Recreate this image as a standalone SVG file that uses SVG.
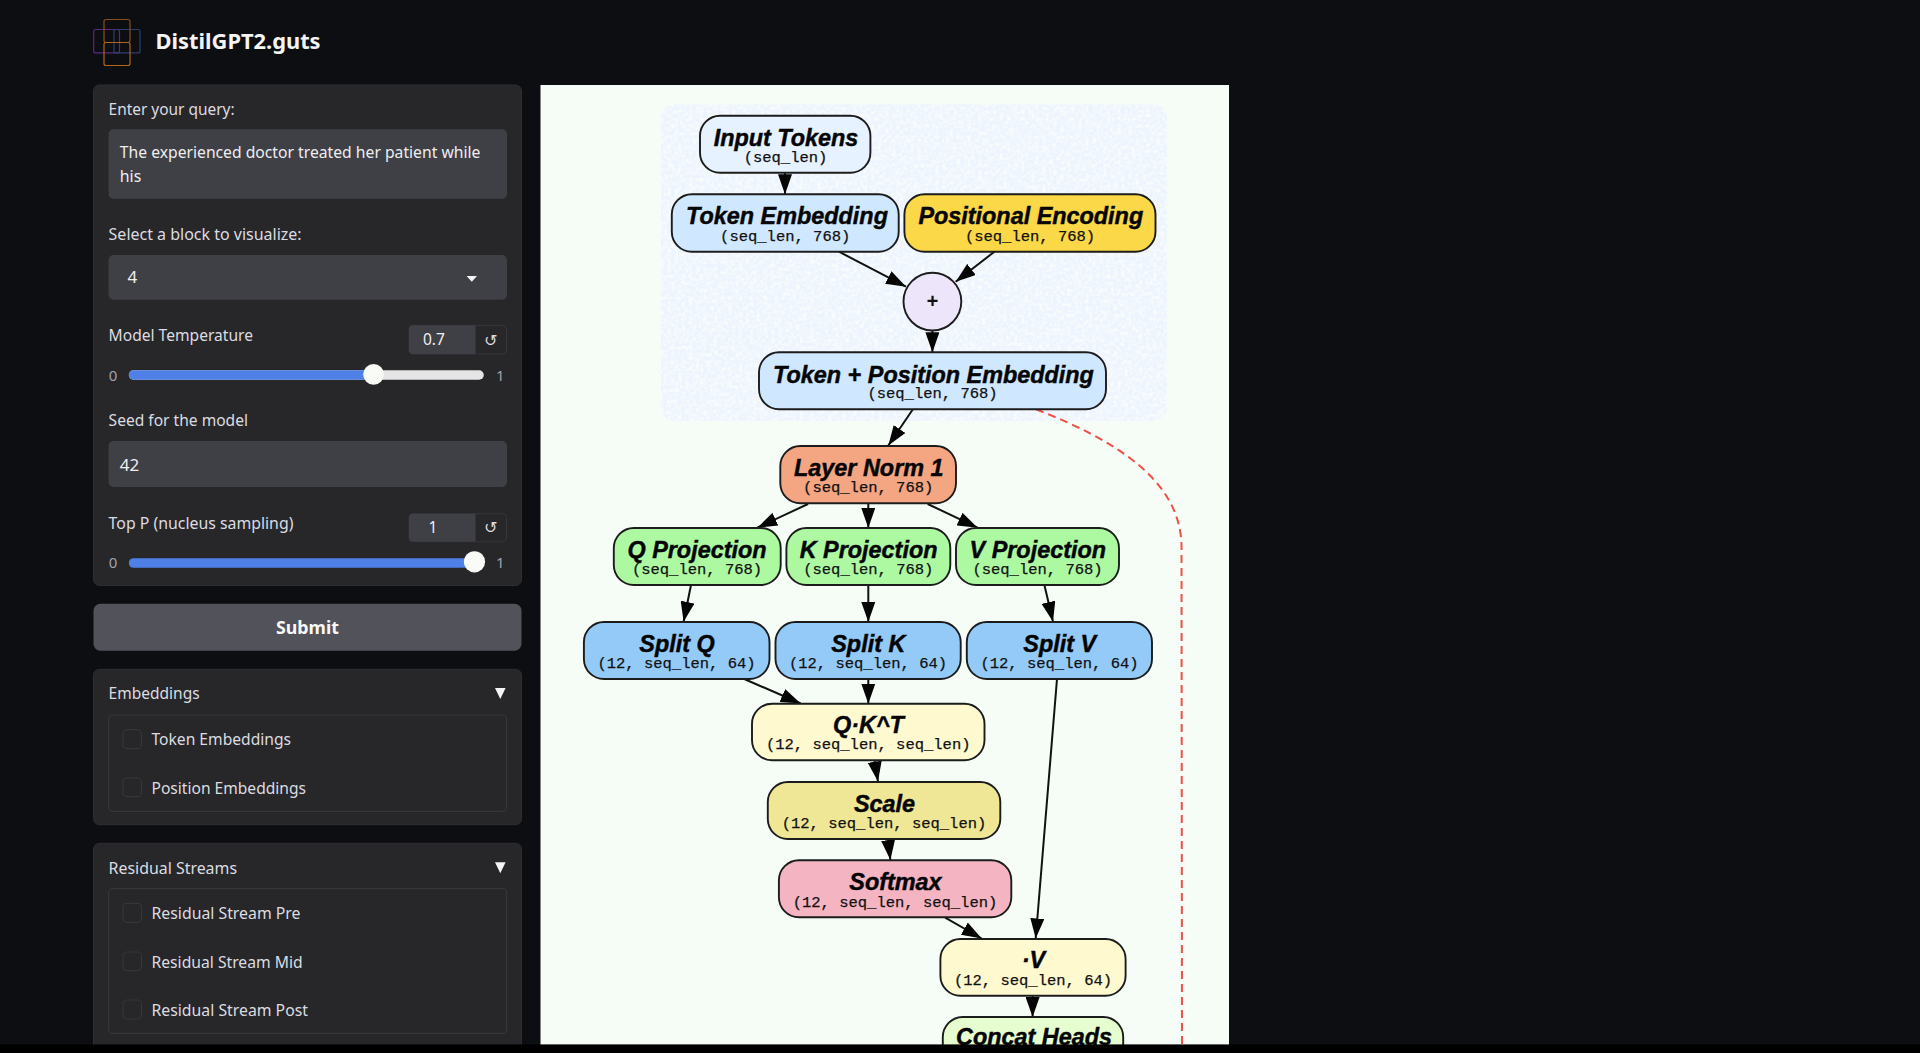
<svg xmlns="http://www.w3.org/2000/svg" width="1920" height="1053" viewBox="0 0 1920 1053">
<style>
.ui{font-family:"Noto Sans","Inter","Liberation Sans",sans-serif;font-size:16px;fill:#dcdce0}
.val{fill:#eeeef0}
.big{font-size:17px}
.tick{font-size:15px;fill:#a1a1aa}
.panel{fill:#27272a;stroke:#2e2e33;stroke-width:1}
.field{fill:#3f3f46}
.inner{fill:#27272a;stroke:#36363b;stroke-width:1.2}
.cb{fill:#27272a;stroke:#35353a;stroke-width:1.2}
.node{stroke:#1c1c1c;stroke-width:1.9}
.t{font-family:"Liberation Sans",Arial,sans-serif;font-weight:700;font-style:italic;font-size:23.4px;text-anchor:middle;fill:#050505;stroke:#050505;stroke-width:.45}
.s{font-family:"Liberation Mono","Courier New",monospace;font-size:15.5px;text-anchor:middle;fill:#111;stroke:#111;stroke-width:.25}
.edge{fill:none;stroke:#111;stroke-width:2;marker-end:url(#ah)}
.reset{font-family:"DejaVu Sans",sans-serif;font-size:16px;text-anchor:middle;fill:#dcdce0}
</style>
<defs>
<marker id="ah" markerUnits="userSpaceOnUse" viewBox="0 0 20 14" refX="20" refY="7" markerWidth="20" markerHeight="14" orient="auto"><path d="M0 0L20 7L0 14z" fill="#050505"/></marker>
<filter id="grain" x="0" y="0" width="1" height="1"><feTurbulence type="fractalNoise" baseFrequency="0.28" numOctaves="2" seed="4" result="n"/><feColorMatrix in="n" values="0 0 0 0 0.96 0 0 0 0 0.99 0 0 0 0 0.97 2.2 0 0 0 -0.85" result="c"/><feComposite in="c" in2="SourceAlpha" operator="in" result="d"/><feMerge><feMergeNode in="SourceGraphic"/><feMergeNode in="d"/></feMerge></filter>
</defs>
<rect width="1920" height="1053" fill="#0d0e11"/>

<g id="header">
<g fill="none" stroke-width="1.2">
<rect x="93.7" y="29.5" width="25.8" height="23.4" rx="2" stroke="#5b2a78"/>
<rect x="114" y="29.5" width="26" height="23.4" rx="2" stroke="#2c3f73"/>
<rect x="104" y="19.5" width="26" height="23" rx="2" stroke="#8a4f17"/>
<rect x="104" y="42.5" width="26" height="23" rx="2" stroke="#b0651a"/>
</g>
<text x="155.6" y="49.3" class="ui" style="font-size:22px;font-weight:700;fill:#f4f4f5" textLength="165" lengthAdjust="spacingAndGlyphs">DistilGPT2.guts</text>
</g>

<g id="controls">
<rect class="panel" x="93.5" y="85" width="428" height="500.5" rx="6"/>
<text class="ui" x="108.6" y="115" textLength="126" lengthAdjust="spacingAndGlyphs">Enter your query:</text>
<rect class="field" x="108.6" y="129.3" width="398.4" height="69.4" rx="5"/>
<text class="ui val" x="119.8" y="158.3" textLength="360.6" lengthAdjust="spacingAndGlyphs">The experienced doctor treated her patient while</text>
<text class="ui val" x="119.8" y="181.7" textLength="21.5" lengthAdjust="spacingAndGlyphs">his</text>
<text class="ui" x="108.6" y="240" textLength="193" lengthAdjust="spacingAndGlyphs">Select a block to visualize:</text>
<rect class="field" x="108.6" y="255" width="398.4" height="44.7" rx="5"/>
<text class="ui val big" x="127.4" y="283.3">4</text>
<path d="M466.6 276H477L471.8 281.7z" fill="#f4f4f5"/>
<text class="ui" x="108.6" y="341" textLength="144.4" lengthAdjust="spacingAndGlyphs">Model Temperature</text>
<rect x="409" y="325.3" width="97.5" height="28.7" rx="4" fill="#27272a" stroke="#36363b"/>
<path d="M413 325.3H475.5V354H413a4 4 0 0 1-4-4V329.3a4 4 0 0 1 4-4z" class="field"/>
<text class="ui val" x="423" y="345" style="font-size:15.5px">0.7</text>
<text class="reset" x="490.7" y="345.5">↺</text>
<rect x="128.8" y="370.3" width="355" height="9.4" rx="4.7" fill="#e5e5e5"/>
<path d="M133.5 370.3H373.6V379.7H133.5a4.7 4.7 0 0 1 0-9.4z" fill="#4f80e8"/>
<circle cx="373.6" cy="374.3" r="10.4" fill="#f8fbf6"/>
<text class="ui tick" x="108.8" y="380.7">0</text>
<text class="ui tick" x="496" y="380.7">1</text>
<text class="ui" x="108.6" y="426" textLength="139.4" lengthAdjust="spacingAndGlyphs">Seed for the model</text>
<rect class="field" x="108.6" y="441" width="398.4" height="46" rx="5"/>
<text class="ui val big" x="119.8" y="470.7">42</text>
<text class="ui" x="108.6" y="529" textLength="184.8" lengthAdjust="spacingAndGlyphs">Top P (nucleus sampling)</text>
<rect x="409" y="513.7" width="97.5" height="28" rx="4" fill="#27272a" stroke="#36363b"/>
<path d="M413 513.7H475.5V541.7H413a4 4 0 0 1-4-4V517.7a4 4 0 0 1 4-4z" class="field"/>
<text class="ui val" x="433" y="532.7" text-anchor="middle" style="font-size:15.5px">1</text>
<text class="reset" x="490.7" y="533">↺</text>
<rect x="128.8" y="558.2" width="355" height="9.6" rx="4.8" fill="#4f80e8"/>
<circle cx="474.5" cy="561.8" r="10.6" fill="#f8fbf6"/>
<text class="ui tick" x="108.8" y="568">0</text>
<text class="ui tick" x="496" y="568">1</text>
</g>

<g id="submit">
<rect x="93.5" y="603.7" width="428" height="47" rx="7" fill="#52525b"/>
<text x="307.5" y="634.3" class="ui" text-anchor="middle" style="font-weight:700;fill:#f8f8f8;font-size:18px" textLength="63" lengthAdjust="spacingAndGlyphs">Submit</text>
</g>

<g id="embeddings">
<rect class="panel" x="93.5" y="669.3" width="428" height="155.4" rx="6"/>
<text class="ui" x="108.6" y="699" textLength="91" lengthAdjust="spacingAndGlyphs">Embeddings</text>
<path d="M495 688H505.6L500.3 699z" fill="#f4f4f5"/>
<rect class="inner" x="108.6" y="715" width="398" height="96.3" rx="4"/>
<rect class="cb" x="123" y="729.7" width="18.5" height="19" rx="4"/>
<text class="ui" x="151.5" y="745.3" textLength="139.5" lengthAdjust="spacingAndGlyphs">Token Embeddings</text>
<rect class="cb" x="123" y="778" width="18.5" height="18.7" rx="4"/>
<text class="ui" x="151.5" y="793.7" textLength="154.5" lengthAdjust="spacingAndGlyphs">Position Embeddings</text>
</g>

<g id="residual">
<path class="panel" d="M93.5 1045V849.3a6 6 0 0 1 6-6H515.5a6 6 0 0 1 6 6V1045z"/>
<text class="ui" x="108.6" y="873.5" textLength="128.4" lengthAdjust="spacingAndGlyphs">Residual Streams</text>
<path d="M495 862.3H505.6L500.3 873.3z" fill="#f4f4f5"/>
<rect class="inner" x="108.6" y="888.7" width="398" height="144.6" rx="4"/>
<rect class="cb" x="123" y="903.3" width="18.5" height="19" rx="4"/>
<text class="ui" x="151.5" y="919" textLength="149" lengthAdjust="spacingAndGlyphs">Residual Stream Pre</text>
<rect class="cb" x="123" y="952" width="18.5" height="18.7" rx="4"/>
<text class="ui" x="151.5" y="967.7" textLength="151.2" lengthAdjust="spacingAndGlyphs">Residual Stream Mid</text>
<rect class="cb" x="123" y="1000" width="18.5" height="19" rx="4"/>
<text class="ui" x="151.5" y="1015.8" textLength="156.5" lengthAdjust="spacingAndGlyphs">Residual Stream Post</text>
</g>

<rect id="canvas" x="540.5" y="85" width="688.5" height="960" fill="#f5fdf6"/>
<rect id="embedding-cluster" x="661" y="104.5" width="506" height="316.2" rx="14" fill="#edf4fe" filter="url(#grain)"/>

<g id="connectors">
<path class="edge" d="M785 172.7V194.3"/>
<path class="edge" d="M839 251.7L906 286.7"/>
<path class="edge" d="M994.4 251.7L955.7 281.7"/>
<path class="edge" d="M932.4 330.3V352.3"/>
<path class="edge" d="M912.9 409.3L888.3 445.5"/>
<path class="edge" d="M808 504L757.3 527.7"/>
<path class="edge" d="M868.3 503.3V528"/>
<path class="edge" d="M927.7 504L977.6 527.7"/>
<path class="edge" d="M691 585L683.6 621.7"/>
<path class="edge" d="M868.3 585V622"/>
<path class="edge" d="M1044.4 585L1053 621.7"/>
<path class="edge" d="M744.3 679L800.7 703.5"/>
<path class="edge" d="M868.3 679V703.7"/>
<path class="edge" d="M1057 679L1035.7 938.5"/>
<path class="edge" d="M874.6 760.7L878 781.5"/>
<path class="edge" d="M888 839L890.4 860"/>
<path class="edge" d="M945.2 917.7L981.7 938.5"/>
<path class="edge" d="M1032.6 995.7V1017"/>
<path d="M1036 409.3C1115 440 1180 480 1181.5 545L1182 1045" fill="none" stroke="#ee4f47" stroke-width="2" stroke-dasharray="8 5"/>
</g>

<g id="input-tokens"><rect class="node" x="700" y="115.7" width="170.4" height="57" rx="20" fill="#e6f2ff"/><text class="t" x="786" y="146">Input Tokens</text><text class="s" x="785.5" y="162.3">(seq_len)</text></g>
<g id="token-embedding"><rect class="node" x="671.8" y="194.3" width="226.9" height="57.4" rx="20" fill="#d0e8ff"/><text class="t" x="787" y="224.3">Token Embedding</text><text class="s" x="785.2" y="240.7">(seq_len, 768)</text></g>
<g id="positional-encoding"><rect class="node" x="904.4" y="194.3" width="251.1" height="57.4" rx="20" fill="#fbd848"/><text class="t" x="1030.8" y="224.3">Positional Encoding</text><text class="s" x="1030" y="240.7">(seq_len, 768)</text></g>
<g id="add"><circle class="node" cx="932.4" cy="301.6" r="28.9" fill="#ede6fb"/><text x="932.4" y="307.5" text-anchor="middle" style="font-family:'Liberation Mono',monospace;font-size:20px;font-weight:700;fill:#111">+</text></g>
<g id="token-position-embedding"><rect class="node" x="759" y="352.3" width="347" height="57" rx="20" fill="#d0e8ff"/><text class="t" x="933.5" y="382.7">Token + Position Embedding</text><text class="s" x="932.5" y="398.3">(seq_len, 768)</text></g>
<g id="layer-norm-1"><rect class="node" x="780.3" y="446" width="175.7" height="57.3" rx="20" fill="#f4a582"/><text class="t" x="868.8" y="476">Layer Norm 1</text><text class="s" x="868.2" y="492.3">(seq_len, 768)</text></g>
<g id="q-projection"><rect class="node" x="613.8" y="528" width="166.9" height="57" rx="20" fill="#adf9a1"/><text class="t" x="697" y="558.3">Q Projection</text><text class="s" x="697" y="574">(seq_len, 768)</text></g>
<g id="k-projection"><rect class="node" x="786.4" y="528" width="163.9" height="57" rx="20" fill="#adf9a1"/><text class="t" x="868.6" y="558.3">K Projection</text><text class="s" x="868.3" y="574">(seq_len, 768)</text></g>
<g id="v-projection"><rect class="node" x="956" y="528" width="163" height="57" rx="20" fill="#adf9a1"/><text class="t" x="1037.8" y="558.3">V Projection</text><text class="s" x="1037.5" y="574">(seq_len, 768)</text></g>
<g id="split-q"><rect class="node" x="583.9" y="622" width="185.6" height="57" rx="20" fill="#94caf8"/><text class="t" x="677" y="652.2">Split Q</text><text class="s" x="676.5" y="668">(12, seq_len, 64)</text></g>
<g id="split-k"><rect class="node" x="775.5" y="622" width="185.2" height="57" rx="20" fill="#94caf8"/><text class="t" x="868.3" y="652.2">Split K</text><text class="s" x="868" y="668">(12, seq_len, 64)</text></g>
<g id="split-v"><rect class="node" x="966.8" y="622" width="185.2" height="57" rx="20" fill="#94caf8"/><text class="t" x="1059.7" y="652.2">Split V</text><text class="s" x="1059.5" y="668">(12, seq_len, 64)</text></g>
<g id="qkt"><rect class="node" x="752" y="703.7" width="232.5" height="56.6" rx="20" fill="#fff9d0"/><text class="t" x="868.5" y="732.5">Q·K^T</text><text class="s" x="868.2" y="749">(12, seq_len, seq_len)</text></g>
<g id="scale"><rect class="node" x="767.8" y="782" width="232.5" height="57" rx="20" fill="#efe696"/><text class="t" x="884.5" y="811.5">Scale</text><text class="s" x="884" y="828.3">(12, seq_len, seq_len)</text></g>
<g id="softmax"><rect class="node" x="778.9" y="860.3" width="232.4" height="57" rx="20" fill="#f5b4c2"/><text class="t" x="895.5" y="889.8">Softmax</text><text class="s" x="895" y="906.7">(12, seq_len, seq_len)</text></g>
<g id="v-product"><rect class="node" x="940.4" y="939" width="185.2" height="56.7" rx="20" fill="#fff9d0"/><text class="t" x="1033.5" y="967.5">·V</text><text class="s" x="1033" y="985">(12, seq_len, 64)</text></g>
<g id="concat-heads"><rect class="node" x="942.8" y="1017" width="180.4" height="57" rx="20" fill="#e6fdd0"/><text class="t" x="1034" y="1045">Concat Heads</text></g>

<rect id="window-bottom" x="0" y="1044.4" width="1920" height="8.6" fill="#000"/>
</svg>
